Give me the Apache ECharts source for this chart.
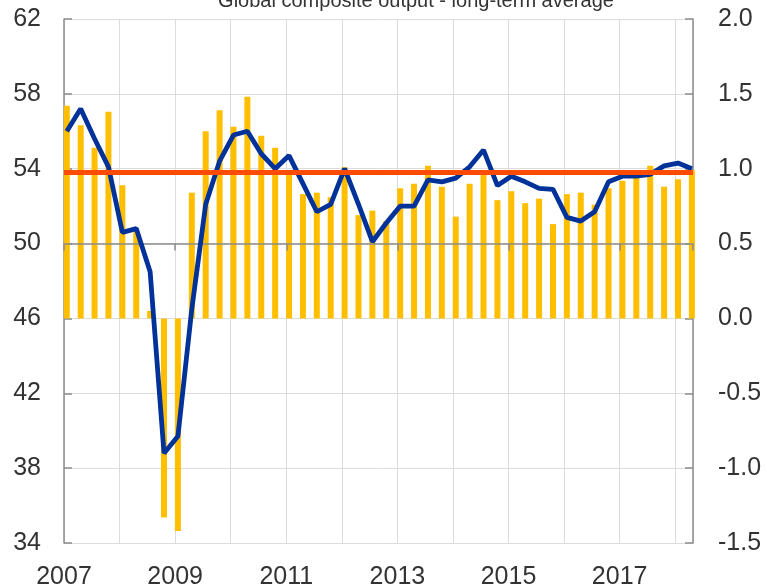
<!DOCTYPE html>
<html>
<head>
<meta charset="utf-8">
<script src="https://cdn.jsdelivr.net/npm/echarts@6/dist/echarts.min.js"></script>
<style>html,body{margin:0;padding:0;background:#fff}#c{width:767px;height:587px}</style>
</head>
<body>
<div id="c"></div>
<script>
// ---- data ----
const quarters = [
  '2007Q1','2007Q2','2007Q3','2007Q4','2008Q1','2008Q2','2008Q3','2008Q4',
  '2009Q1','2009Q2','2009Q3','2009Q4','2010Q1','2010Q2','2010Q3','2010Q4',
  '2011Q1','2011Q2','2011Q3','2011Q4','2012Q1','2012Q2','2012Q3','2012Q4',
  '2013Q1','2013Q2','2013Q3','2013Q4','2014Q1','2014Q2','2014Q3','2014Q4',
  '2015Q1','2015Q2','2015Q3','2015Q4','2016Q1','2016Q2','2016Q3','2016Q4',
  '2017Q1','2017Q2','2017Q3','2017Q4','2018Q1','2018Q2'
];
// Global composite output PMI (left axis)
const compositePMI = [
  56.0, 57.2, 55.6, 54.1, 50.6, 50.8, 48.5, 38.8,
  39.7, 46.5, 52.1, 54.4, 55.8, 56.0, 54.8, 54.0,
  54.7, 53.2, 51.7, 52.1, 54.0, 52.1, 50.1, 51.1,
  52.0, 52.0, 53.4, 53.3, 53.5, 54.1, 55.0, 53.1,
  53.6, 53.3, 52.95, 52.9, 51.4, 51.2, 51.7, 53.3,
  53.6, 53.6, 53.7, 54.15, 54.3, 54.0
];
// Quarterly growth (right axis)
const quarterlyGrowth = [
  1.42, 1.29, 1.14, 1.38, 0.89, 0.58, 0.05, -1.33,
  -1.42, 0.84, 1.25, 1.39, 1.28, 1.48, 1.22, 1.14,
  0.97, 0.83, 0.84, 0.81, 1.01, 0.69, 0.72, 0.65,
  0.87, 0.90, 1.02, 0.88, 0.68, 0.90, 0.98, 0.79,
  0.85, 0.77, 0.80, 0.63, 0.83, 0.84, 0.76, 0.87,
  0.92, 0.95, 1.02, 0.88, 0.93, 0.99
];
const longTermAverage = 53.8;
const leftTicks = {min: 34, max: 62, interval: 4};
const rightTicks = {min: -1.5, max: 2.0, interval: 0.5};
const xRange = {min: 2007, max: 2018.32};
const crossValue = 50;
const titleText = 'Global composite output - long-term average';

// ---- build ----
function qx(label) {
  const y = parseInt(label.slice(0, 4), 10);
  const q = parseInt(label.slice(5), 10);
  return y + (q - 1) / 4 + 0.05;
}
const xs = quarters.map(qx);
const lineData = xs.map((x, i) => [x, compositePMI[i]]);
const barData = xs.map((x, i) => [x, quarterlyGrowth[i]]);

const W = 767, H = 587;
const gridTop = 19, gridBottom = 44, gridLeft = 64, gridRight = 74;
const plotH = H - gridTop - gridBottom;
const crossOffset = -(leftTicks.max - crossValue) / (leftTicks.max - leftTicks.min) * plotH;

const FONT = "'Liberation Sans', Arial, sans-serif";
const AXIS_GREY = '#8c8c8c';
const GRID_GREY = '#dcdcdc';
const TXT = '#333333';

const chart = echarts.init(document.getElementById('c'), null, {renderer: 'canvas'});
chart.setOption({
  animation: false,
  backgroundColor: '#ffffff',
  textStyle: {fontFamily: FONT},
  grid: {left: gridLeft, right: gridRight, top: gridTop, bottom: gridBottom,
    containLabel: false, outerBoundsMode: 'none'},
  graphic: [{
    type: 'text', x: 416, y: -9,
    style: {text: titleText, font: "20px 'Liberation Sans', Arial, sans-serif", fill: TXT, textAlign: 'center', textVerticalAlign: 'top'}
  }],
  xAxis: [
    { // crossing axis at 50: line + ticks, drawn over the bars
      type: 'value', position: 'top', offset: crossOffset, z: 3,
      min: xRange.min, max: xRange.max, interval: 2,
      axisLine: {show: true, onZero: false, lineStyle: {color: AXIS_GREY, width: 1.5}},
      axisTick: {show: true, inside: true, length: 7, lineStyle: {color: AXIS_GREY, width: 1.5}},
      axisLabel: {show: false},
      splitLine: {show: false}
    },
    { // labels at bottom + yearly grid lines
      type: 'value', position: 'bottom',
      min: xRange.min, max: xRange.max, interval: 2,
      axisLine: {show: false, onZero: false}, axisTick: {show: false},
      splitLine: {show: true, lineStyle: {color: GRID_GREY, width: 1}},
      minorTick: {show: false, splitNumber: 2},
      minorSplitLine: {show: true, lineStyle: {color: GRID_GREY, width: 1}},
      axisLabel: {show: true, fontSize: 25, color: TXT, fontFamily: FONT, margin: 22,
        showMaxLabel: false, formatter: v => String(Math.round(v))}
    }
  ],
  yAxis: [
    {
      type: 'value', position: 'left',
      min: leftTicks.min, max: leftTicks.max, interval: leftTicks.interval,
      axisLine: {show: true, onZero: false, lineStyle: {color: AXIS_GREY, width: 1.5}},
      axisTick: {show: true, inside: true, length: 8, lineStyle: {color: AXIS_GREY, width: 1.5}},
      axisLabel: {fontSize: 25, color: TXT, fontFamily: FONT, margin: 23},
      splitLine: {show: true, lineStyle: {color: GRID_GREY, width: 1}}
    },
    {
      type: 'value', position: 'right',
      min: rightTicks.min, max: rightTicks.max, interval: rightTicks.interval,
      axisLine: {show: true, onZero: false, lineStyle: {color: AXIS_GREY, width: 1.5}},
      axisTick: {show: true, inside: true, length: 8, lineStyle: {color: AXIS_GREY, width: 1.5}},
      axisLabel: {fontSize: 25, color: TXT, fontFamily: FONT, margin: 25,
        formatter: v => v.toFixed(1)},
      splitLine: {show: false}
    }
  ],
  series: [
    {
      name: 'Quarterly growth', type: 'bar', xAxisIndex: 1, yAxisIndex: 1,
      data: barData, barWidth: 6, itemStyle: {color: '#FFBF00'}, z: 2
    },
    {
      name: 'Global composite output', type: 'line', xAxisIndex: 1, yAxisIndex: 0,
      data: lineData, symbol: 'none', lineStyle: {color: '#003299', width: 4.8}, z: 4
    },
    {
      name: 'Long-term average', type: 'line', xAxisIndex: 1, yAxisIndex: 0,
      data: [], z: 5,
      markLine: {
        silent: true, symbol: ['none', 'none'], label: {show: false},
        lineStyle: {color: '#FF4B00', width: 5, type: 'solid'},
        data: [{yAxis: longTermAverage}]
      }
    }
  ]
});
</script>
</body>
</html>
